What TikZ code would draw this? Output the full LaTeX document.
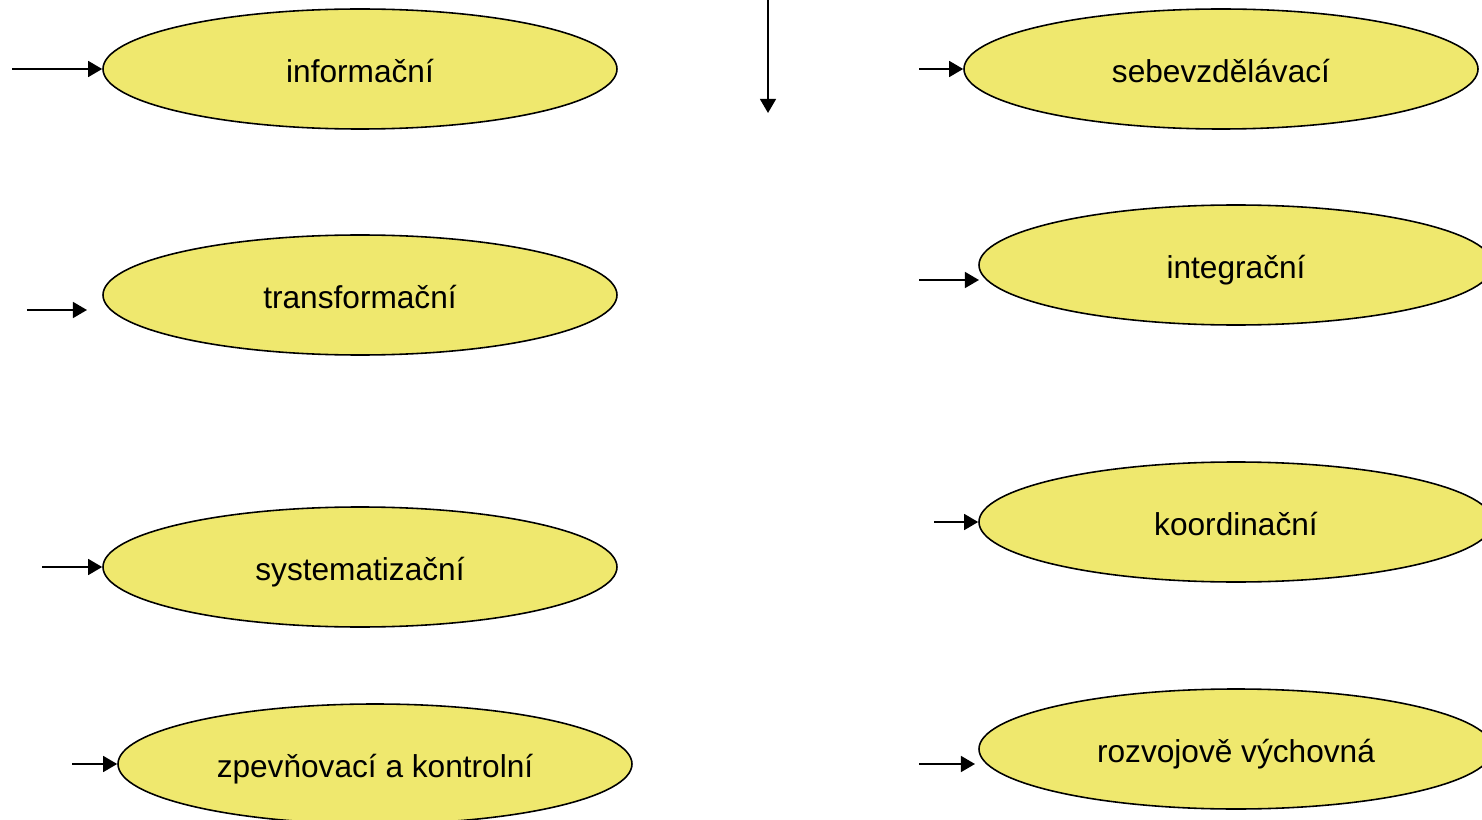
\documentclass[tikz,border=0pt]{standalone}
\usepackage{fontspec}
\setmainfont{Liberation Sans}
\usetikzlibrary{shapes.geometric,arrows.meta}

\definecolor{bubbleyellow}{RGB}{239,232,110}

\begin{document}
\begin{tikzpicture}[scale=1, transform shape,
	funkce/.style={ellipse, draw=black, line width=0.9pt, fill=bubbleyellow,
		minimum width=10.28cm, minimum height=2.4cm, inner sep=0pt,
		text height=18pt, text depth=3pt, font=\fontsize{18}{22}\selectfont},
	sipka/.style={line width=1.2pt, -{Triangle[length=8pt,width=9pt]}}]
			\useasboundingbox (0,0) rectangle (29.64,-16.4);

			% left column
			\node[funkce] (info) at (7.2,-1.38) {informační};
			\node[funkce] (trans) at (7.2,-5.9) {transformační};
			\node[funkce] (syst) at (7.2,-11.34) {systematizační};
			\node[funkce] (zpev) at (7.5,-15.28) {zpevňovací a kontrolní};

			% right column
			\node[funkce] (sebe) at (24.42,-1.38) {sebevzdělávací};
			\node[funkce] (integ) at (24.72,-5.3) {integrační};
			\node[funkce] (koord) at (24.72,-10.44) {koordinační};
			\node[funkce] (rozv) at (24.72,-14.98) {rozvojově výchovná};

			\coordinate (I0) at (0.24,-1.38);
			\coordinate (T0) at (0.54,-6.2);
			\coordinate (T1) at (1.74,-6.2);
			\coordinate (S0) at (0.84,-11.34);
			\coordinate (Z0) at (1.44,-15.28);
			\coordinate (E0) at (18.38,-1.38);
			\coordinate (G0) at (18.38,-5.6);
			\coordinate (G1) at (19.58,-5.6);
			\coordinate (K0) at (18.68,-10.44);
			\coordinate (R0) at (18.38,-15.28);
			\coordinate (R1) at (19.5,-15.28);
			\coordinate (V0) at (15.36,0);
			\coordinate (V1) at (15.36,-2.26);

			\draw[sipka] (I0)--(info.west);
			\draw[sipka] (T0)--(T1);
			\draw[sipka] (S0)--(syst.west);
			\draw[sipka] (Z0)--(zpev.west);
			\draw[sipka] (E0)--(sebe.west);
			\draw[sipka] (G0)--(G1);
			\draw[sipka] (K0)--(koord.west);
			\draw[sipka] (R0)--(R1);
			\draw[sipka] (V0)--(V1);
		\end{tikzpicture}
\end{document}
